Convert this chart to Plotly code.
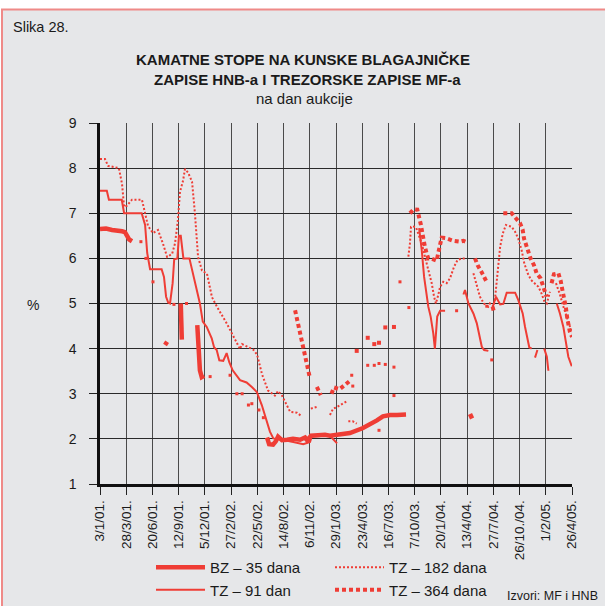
import plotly.graph_objects as go

N = None
# x positions are expressed on the auction-index axis (tick i = label i)
tick_labels = ["3/1/01.", "28/3/01.", "20/6/01.", "12/9/01.", "5/12/01.", "27/2/02.",
               "22/5/02.", "14/8/02.", "6/11/02.", "29/1/03.", "23/4/03.", "16/7/03.",
               "7/10/03.", "20/1/04.", "13/4/04.", "27/7/04.", "26/10./04.", "1/2/05.",
               "26/4/05."]

bz_x = [0, 0.23, 0.46, 0.69, 0.84, 0.95, 1.03, 1.11, 1.22, N,
        2.48, 2.56, N,
        3.08, 3.10, 3.12, N,
        3.71, 3.81, 3.88, 3.97, N,
        6.37, 6.45, 6.60, 6.71, 6.79, 6.94, 7.13, 7.36, 7.63, 7.82, 7.90, 8.05, 8.31, 8.58,
        8.77, 9.15, 9.53, 10.03, 10.30, 10.56, 10.79, 11.06, 11.33, 11.67, N,
        14.11, 14.19]
bz_y = [6.65, 6.66, 6.63, 6.62, 6.60, 6.58, 6.50, 6.42, 6.38, N,
        4.08, 4.15, N,
        5.0, 4.6, 4.2, N,
        4.52, 3.52, 3.37, 3.40, N,
        2.03, 1.88, 1.87, 1.95, 2.05, 1.97, 1.98, 2.00, 1.98, 2.03, 1.97, 2.07, 2.08, 2.09,
        2.07, 2.10, 2.13, 2.24, 2.32, 2.41, 2.50, 2.53, 2.53, 2.54, N,
        2.55, 2.45]

tz91_x = [0, 0.26, 0.34, 0.83, 0.92, 1.59, 1.72, 1.80, 1.91, 2.35, 2.44, 2.52, 2.60, 2.67,
          2.77, 2.83, 2.95, 3.01, 3.08, 3.18, 3.41, 3.56, 3.69, 3.81, 3.92, 4.07, 4.26, 4.35,
          4.45, 4.55, 4.70, 4.83, 4.93, 5.06, 5.34, 5.59, 5.79, 5.98, 6.17, 6.36, 6.48, 6.61,
          6.86, 7.37, 7.75, 8.01, 8.08, 8.77, 8.89, 9.04, N,
          12.17, 12.27, 12.36, 12.43, 12.52, 12.61, 12.71, 12.77, 12.81, 12.86, 12.97, 13.16, N,
          13.86, 13.92, 14.05, 14.24, 14.37, 14.47, 14.56, 14.65, 14.81, N,
          14.99, 15.10, 15.26, 15.38, 15.51, 15.83, 15.95, 16.12, 16.21, 16.30, 16.37, 16.46, N,
          16.59, 16.68, N,
          16.94, 17.04, 17.10, N,
          17.42, 17.54, 17.67, 17.77, 17.86, 17.99]
tz91_y = [7.5, 7.5, 7.3, 7.3, 7.0, 7.0, 6.74, 6.12, 5.76, 5.76, 5.59, 5.15, 5.02, 5.0,
          5.45, 5.98, 6.0, 6.5, 6.5, 6.0, 6.0, 5.6, 5.26, 5.0, 4.6, 4.48, 4.23, 4.03,
          3.97, 3.74, 3.73, 3.9, 3.7, 3.52, 3.3, 3.25, 3.15, 3.04, 2.75, 2.38, 2.16, 2.01,
          1.99, 1.93, 1.88, 1.93, 2.06, 2.07, 2.0, 1.9, N,
          6.67, 6.18, 5.59, 5.3, 4.93, 4.71, 4.34, 4.0, 4.41, 4.71, 4.84, 4.84, N,
          5.2, 5.3, 5.0, 4.78, 4.56, 4.26, 4.04, 3.97, 3.95, N,
          4.95, 5.15, 4.98, 4.99, 5.24, 5.24, 5.08, 4.78, 4.48, 4.19, 4.03, 4.0, N,
          3.8, 3.97, N,
          4.0, 3.82, 3.51, N,
          5.0, 4.78, 4.48, 4.12, 3.82, 3.61]

tz182_x = [0, 0.19, 0.31, 0.72, 0.84, 0.92, 1.03, 1.22, 1.60, 1.72, 1.83, 2.02, 2.21, 2.40,
           2.56, 2.75, 2.86, 2.97, 3.05, 3.17, 3.24, 3.36, 3.51, 3.62, 3.74, 3.89, 4.08, 4.27,
           4.46, 4.84, 5.22, 5.34, 5.42, 5.84, 5.99, 6.18, 6.41, 6.67, 6.79, 6.94, 7.25, 7.51,
           7.67, N,
           8.04, 8.27, N,
           8.77, 8.89, 9.02, 9.28, 9.43, N,
           9.47, 9.64, 9.79, N,
           11.76, 11.82, 11.86, 11.93, 12.05, 12.14, 12.27, 12.39, 12.52, 12.65, 12.74, 12.81,
           12.90, 12.97, 13.09, 13.22, 13.35, 13.50, 13.63, 13.79, 13.98, N,
           14.24, 14.37, 14.49, 14.64, 14.81, 14.87, 15.00, 15.06, 15.13, 15.19, 15.26, 15.36,
           15.48, 15.70, 15.83, 15.95, 16.08, 16.18, 16.31, 16.44, 16.56, 16.72, 16.84, 16.95,
           17.04, 17.10, 17.16, N,
           17.39, 17.54, 17.66, 17.77, 17.89, 18.0]
tz182_y = [8.2, 8.2, 8.05, 8.0, 7.65, 7.14, 7.17, 7.3, 7.3, 7.0, 6.72, 6.56, 6.63, 6.33,
           6.03, 6.1, 6.33, 6.84, 7.47, 7.73, 7.98, 7.9, 7.7, 7.0, 6.03, 5.73, 5.66, 5.14,
           4.93, 4.55, 4.12, 3.99, 4.1, 3.98, 3.87, 3.43, 3.07, 2.96, 3.06, 2.96, 2.6, 2.58,
           2.51, N,
           2.67, 2.71, N,
           2.53, 2.67, 2.7, 2.78, 2.84, N,
           2.39, 2.39, 2.34, N,
           6.04, 6.33, 6.7, 6.71, 6.69, 6.55, 6.33, 6.04, 5.74, 5.45, 5.15, 5.0,
           5.19, 5.37, 5.48, 5.45, 5.56, 5.81, 5.96, 6.0, 6.0, N,
           5.67, 5.37, 5.15, 5.0, 4.93, 5.0, 4.93, 5.08, 5.45, 5.89, 6.26, 6.55,
           6.74, 6.7, 6.59, 6.44, 6.18, 5.89, 5.67, 5.52, 5.45, 5.37, 5.22, 5.04,
           5.0, 5.15, 5.26, N,
           5.45, 5.2, 4.95, 4.75, 4.55, 4.35]
tz182_iso_x = [1.56, 1.75, 2.02, 2.82, 3.30, 4.20, 4.96, 5.22, 5.42, 5.66, 5.79, 6.06, 6.23,
               9.60, 9.64, 10.21, 10.46, 10.64, 10.88, 11.21, 11.21, 10.64,
               11.44, 11.78, 13.60, 14.75, 14.94]
tz182_iso_y = [6.37, 6.0, 5.48, 4.98, 5.0, 3.38, 3.41, 3.0, 3.0, 2.75, 2.78, 2.64, 2.47,
               3.41, 3.17, 3.63, 3.63, 3.67, 3.65, 3.59, 2.96, 2.19,
               5.48, 4.91, 4.84, 4.94, 3.75]

tz364_x = [7.44, 7.57, 7.66, 7.73, 7.86, 7.99, N,
           8.27, 8.42, N,
           8.83, 8.92, 9.13, 9.34, 9.56, N,
           11.82, 11.97, 12.10, 12.18, 12.24, 12.29, 12.33, 12.39, 12.46, 12.52, 12.62, 12.84,
           12.90, 12.97, 13.03, 13.18, 13.47, 13.73, 13.86, 14.02, N,
           14.30, 14.40, 14.55, 14.68, 14.77, N,
           14.97, 15.03, N,
           15.38, 15.70, 15.86, 16.02, 16.12, 16.17, 16.25, 16.33, 16.42, 16.55, 16.65, 16.80,
           16.90, 16.97, 17.03, N,
           17.22, 17.31, 17.48, 17.57, 17.63, 17.70, 17.77, 17.82, 17.87, 17.92, 18.0]
tz364_y = [4.85, 4.52, 4.26, 4.04, 3.71, 3.39, N,
           3.15, 2.97, N,
           3.0, 3.14, 3.1, 3.2, 3.3, N,
           7.0, 7.09, 7.08, 6.91, 6.74, 6.57, 6.42, 6.26, 6.1, 6.0, 6.0, 5.95,
           6.12, 6.3, 6.46, 6.45, 6.39, 6.37, 6.39, 6.35, N,
           6.0, 5.85, 5.7, 5.57, 5.45, N,
           4.93, 4.8, N,
           7.0, 7.0, 6.89, 6.78, 6.63, 6.44, 6.3, 6.12, 6.0, 5.85, 5.67, 5.56,
           5.41, 5.26, 5.15, N,
           5.45, 5.65, 5.67, 5.5, 5.31, 5.15, 4.9, 4.67, 4.52, 4.37, 4.26]
tz364_iso_x = [9.79, 10.21, 10.46, 10.64, 10.88, 11.21]
tz364_iso_y = [3.95, 4.24, 4.1, 4.13, 4.47, 4.48]

RED = "#ef3d35"
BG = "#e6e7e9"
FONT = "Liberation Sans, Arial, sans-serif"
W, H = 605, 606

fig = go.Figure()
fig.add_trace(go.Scatter(x=tz182_x, y=tz182_y, mode="lines", name="TZ – 182 dana",
                         legendrank=2, line=dict(color=RED, width=2, dash="2px,2px")))
fig.add_trace(go.Scatter(x=tz182_iso_x, y=tz182_iso_y, mode="markers", showlegend=False,
                         marker=dict(color=RED, size=3, symbol="square")))
fig.add_trace(go.Scatter(x=tz364_x, y=tz364_y, mode="lines", name="TZ – 364 dana",
                         legendrank=4, line=dict(color=RED, width=4, dash="4px,3px")))
fig.add_trace(go.Scatter(x=tz364_iso_x, y=tz364_iso_y, mode="markers", showlegend=False,
                         marker=dict(color=RED, size=4, symbol="square")))
fig.add_trace(go.Scatter(x=tz91_x, y=tz91_y, mode="lines", name="TZ – 91 dan",
                         legendrank=3, line=dict(color=RED, width=2)))
fig.add_trace(go.Scatter(x=bz_x, y=bz_y, mode="lines", name="BZ – 35 dana",
                         legendrank=1, line=dict(color=RED, width=4.5)))

def cx(p):
    return p / W

def cy(p):
    return 1 - p / H

def px_x(p):
    return (p - 100) / 472.0

def px_y(p):
    return (484 - p) / 361.0

notes = [
    ("Slika 28.", 11, 27, 14.5, "left"),
    ("<b>KAMATNE STOPE NA KUNSKE BLAGAJNIČKE</b>", 303, 60, 15, "center"),
    ("<b>ZAPISE HNB-a I TREZORSKE ZAPISE MF-a</b>", 307, 79, 15, "center"),
    ("na dan aukcije", 304, 98, 15, "center"),
    ("%", 33, 305, 14, "center"),
    ("Izvori: MF i HNB", 505, 596, 12.5, "left"),
]

fig.update_layout(
    width=W, height=H, autosize=False,
    margin=dict(l=100, r=33, t=123, b=122, autoexpand=False),
    paper_bgcolor=BG, plot_bgcolor=BG,
    font=dict(family=FONT, color="#1a1a1a"),
    showlegend=True,
    legend=dict(orientation="h", xref="container", yref="container",
                x=cx(151), y=cy(551), xanchor="left", yanchor="top",
                bgcolor="rgba(0,0,0,0)", font=dict(size=15, family=FONT, color="#1a1a1a"),
                itemwidth=49, entrywidth=115, entrywidthmode="pixels", tracegroupgap=0),
    xaxis=dict(range=[0, 18], tickmode="array", tickvals=list(range(len(tick_labels))),
               ticktext=tick_labels, tickangle=-90, ticks="outside", ticklen=8,
               tickcolor="#222", showgrid=True, gridcolor="#4a4a4a", gridwidth=1.2,
               showline=True, linecolor="#111", linewidth=2.5, zeroline=False,
               automargin=False,
               tickfont=dict(size=13.5, family=FONT, color="#1a1a1a"), fixedrange=True),
    yaxis=dict(range=[1, 9], tickvals=list(range(1, 10)), ticks="outside", ticklen=8,
               tickcolor="#222", showgrid=True, gridcolor="#2a2a2a", gridwidth=1.3,
               showline=True, linecolor="#111", linewidth=2.5, zeroline=False,
               automargin=False, ticklabelstandoff=10,
               tickfont=dict(size=14, family=FONT, color="#1a1a1a"), fixedrange=True),
    shapes=[
        dict(type="rect", xref="paper", yref="paper", x0=px_x(-20), x1=px_x(625),
             y0=px_y(9), y1=px_y(-20), fillcolor="white", line=dict(width=0)),
        dict(type="rect", xref="paper", yref="paper", x0=px_x(-20), x1=px_x(1),
             y0=px_y(625), y1=px_y(-20), fillcolor="white", line=dict(width=0)),
        dict(type="line", xref="paper", yref="paper", x0=px_x(1), x1=px_x(625),
             y0=px_y(9.5), y1=px_y(9.5), line=dict(color="#ef8a88", width=2)),
        dict(type="line", xref="paper", yref="paper", x0=px_x(2), x1=px_x(2),
             y0=px_y(9.5), y1=px_y(625), line=dict(color="#ef8a88", width=2)),
    ],
    annotations=[
        dict(text=t, x=px_x(xp), y=px_y(yp), xref="paper", yref="paper", xanchor=xa,
             yanchor="middle", showarrow=False, font=dict(size=s))
        for (t, xp, yp, s, xa) in notes
    ],
)

fig.write_html("out.html",
               config={"displayModeBar": False, "responsive": False},
               post_script="document.body.style.margin='0';document.body.style.overflow='hidden';")
